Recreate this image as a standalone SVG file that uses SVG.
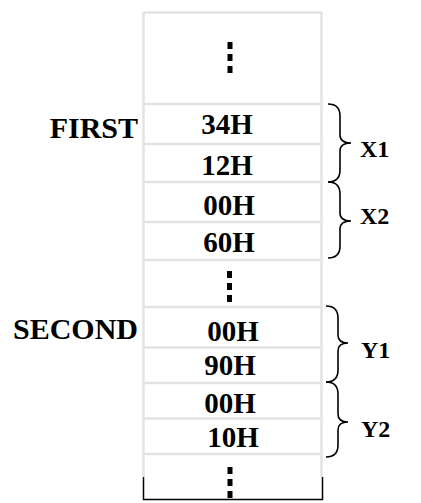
<svg xmlns="http://www.w3.org/2000/svg" width="421" height="503" viewBox="0 0 421 503">
<style>
.cell{fill:none;stroke:#e3e3e3;stroke-width:2.5}
.t{font-family:"Liberation Serif","Times New Roman",serif;font-weight:bold;fill:#000}
.v{font-size:29px;text-anchor:middle}
.lbl{font-size:30px;text-anchor:end}
.br{font-size:24px}
.dots{stroke:#000;stroke-width:5;stroke-dasharray:7 5}
.brace{fill:none;stroke:#000;stroke-width:1.6}
</style>
<rect width="421" height="503" fill="#fff"/>
<g id="memory">
<line class="cell" x1="143.5" y1="12" x2="143.5" y2="477"/>
<line class="cell" x1="321.5" y1="12" x2="321.5" y2="477"/>
<line class="cell" x1="143.5" y1="12.5" x2="321.5" y2="12.5"/>
<path d="M143.5 477 V499.5 H322.5 V477" fill="none" stroke="#000" stroke-width="1.5"/>
</g>
<g id="cell-top"><line class="dots" x1="230" y1="42" x2="230" y2="73"/><line class="cell" x1="143.5" y1="104" x2="321.5" y2="104"/></g>
<g id="cell-34H"><text class="t v" x="227" y="134">34H</text><line class="cell" x1="143.5" y1="144" x2="321.5" y2="144"/></g>
<g id="cell-12H"><text class="t v" x="227" y="175">12H</text><line class="cell" x1="143.5" y1="182" x2="321.5" y2="182"/></g>
<g id="cell-00H-a"><text class="t v" x="229" y="215">00H</text><line class="cell" x1="143.5" y1="222" x2="321.5" y2="222"/></g>
<g id="cell-60H"><text class="t v" x="229" y="252">60H</text><line class="cell" x1="143.5" y1="260" x2="321.5" y2="260"/></g>
<g id="cell-mid"><line class="dots" x1="229.5" y1="271" x2="229.5" y2="302"/><line class="cell" x1="143.5" y1="307" x2="321.5" y2="307"/></g>
<g id="cell-00H-b"><text class="t v" x="233" y="340.5">00H</text><line class="cell" x1="143.5" y1="347.5" x2="321.5" y2="347.5"/></g>
<g id="cell-90H"><text class="t v" x="230" y="375">90H</text><line class="cell" x1="143.5" y1="383" x2="321.5" y2="383"/></g>
<g id="cell-00H-c"><text class="t v" x="230" y="413">00H</text><line class="cell" x1="143.5" y1="418.5" x2="321.5" y2="418.5"/></g>
<g id="cell-10H"><text class="t v" x="233" y="446.5">10H</text><line class="cell" x1="143.5" y1="454" x2="321.5" y2="454"/></g>
<g id="cell-bottom"><line class="dots" x1="230" y1="467" x2="230" y2="498"/></g>
<g id="label-first"><text class="t lbl" x="138" y="137.5">FIRST</text></g>
<g id="label-second"><text class="t lbl" x="138" y="338.5">SECOND</text></g>
<g id="connectors">
<path class="brace" d="M328 104 Q340 104 340 116 L340 135 Q340 143 351 143 Q340 143 340 151 L340 170 Q340 182 328 182"/>
<path class="brace" d="M328 182 Q340 182 340 194 L340 213 Q340 221 351 221 Q340 221 340 229 L340 246 Q340 258 328 258"/>
<path class="brace" d="M326 306 Q338 306 338 318 L338 335 Q338 343 348 343 Q338 343 338 351 L338 370 Q338 382 326 382"/>
<path class="brace" d="M326 382 Q338 382 338 394 L338 414 Q338 422 348 422 Q338 422 338 430 L338 445 Q338 457 326 457"/>
</g>
<g id="label-X1"><text class="t br" x="360" y="156.5">X1</text></g>
<g id="label-X2"><text class="t br" x="360" y="224">X2</text></g>
<g id="label-Y1"><text class="t br" x="361" y="358">Y1</text></g>
<g id="label-Y2"><text class="t br" x="361" y="436.5">Y2</text></g>
</svg>
